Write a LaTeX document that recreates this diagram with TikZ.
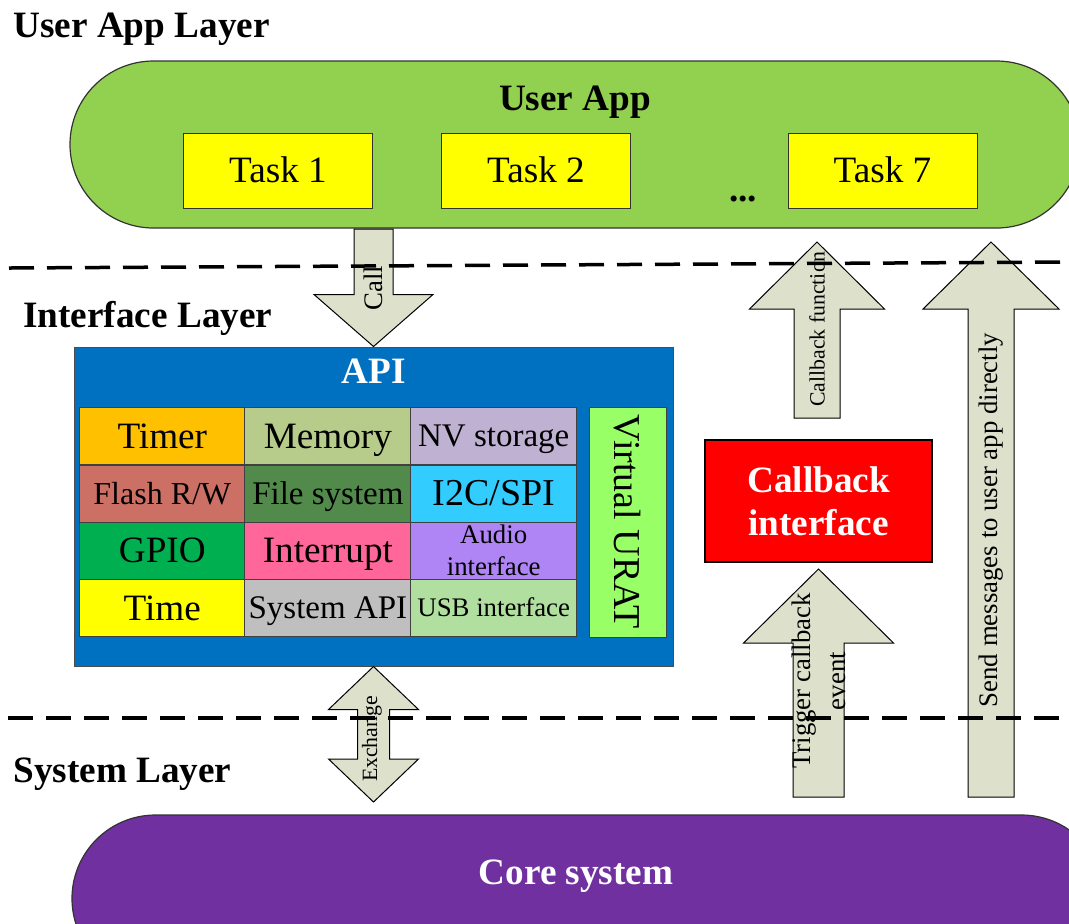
\documentclass[tikz,border=0pt]{standalone}
\usepackage{fontspec}
\setmainfont{Liberation Serif}
\usetikzlibrary{calc}

\definecolor{appgreen}{HTML}{92D050}
\definecolor{taskyellow}{HTML}{FFFF00}
\definecolor{apiblue}{HTML}{0070C0}
\definecolor{corepurple}{HTML}{7030A0}
\definecolor{arrowfill}{HTML}{DDE1CC}
\definecolor{timerc}{HTML}{FFC000}
\definecolor{memoryc}{HTML}{B7CC8A}
\definecolor{nvc}{HTML}{BFB1D1}
\definecolor{flashc}{HTML}{CC7066}
\definecolor{filesysc}{HTML}{518A4A}
\definecolor{busc}{HTML}{33CCFF}
\definecolor{gpioc}{HTML}{00B050}
\definecolor{irqc}{HTML}{FF6699}
\definecolor{audioc}{HTML}{AF84F5}
\definecolor{sysapic}{HTML}{BFBFBF}
\definecolor{usbc}{HTML}{B0DFA0}
\definecolor{vuratc}{HTML}{99FF66}

\newcommand{\fsz}[2]{\fontsize{#1pt}{#2pt}\selectfont}

% tail, tip, head length, shaft half width, head half width
\newcommand{\uparr}[5]{%
  \draw[blockarrow] let \p1=(#1), \p2=(#2) in
    (\p2) -- (\x2+#5,\y2-#3) -- (\x2+#4,\y2-#3) -- (\x2+#4,\y1)
    -- (\x2-#4,\y1) -- (\x2-#4,\y2-#3) -- (\x2-#5,\y2-#3) -- cycle;}
\newcommand{\downarr}[5]{%
  \draw[blockarrow] let \p1=(#1), \p2=(#2) in
    (\p2) -- (\x2+#5,\y2+#3) -- (\x2+#4,\y2+#3) -- (\x2+#4,\y1)
    -- (\x2-#4,\y1) -- (\x2-#4,\y2+#3) -- (\x2-#5,\y2+#3) -- cycle;}

\begin{document}
\begin{tikzpicture}[x=0.5pt,y=-0.5pt,
  every node/.style={inner sep=0pt},
  big/.style={font=\fsz{18.6}{22},text height=12.3pt,text depth=0pt},
  mid/.style={font=\fsz{16.5}{20},text height=10.9pt,text depth=0pt},
  small/.style={font=\fsz{13.4}{16},text height=8.8pt,text depth=0pt},
  layertitle/.style={anchor=base west,font=\fsz{18.6}{22}\bfseries},
  title/.style={anchor=base,font=\fsz{18.6}{22}\bfseries},
  stadium/.style={draw=black!80,line width=0.6pt,rounded corners=41.75pt,
    minimum width=505pt,minimum height=83.5pt},
  task/.style={big,draw=black!80,line width=0.5pt,fill=taskyellow,
    minimum width=94.5pt,minimum height=37.5pt},
  cell/.style={draw=black!75,line width=0.5pt,minimum width=83pt,
    minimum height=28.5pt},
  blockarrow/.style={draw=black,line width=0.5pt,fill=arrowfill},
  arrowlabel/.style={rotate=90,font=\fsz{13.4}{17.5}},
  layerline/.style={line width=1.75pt,dash pattern=on 12.5pt off 6.5pt}]

  \clip (0,0) rectangle (1069,923);

  \node[stadium,fill=appgreen] (userapp) at (575,144.5) {};
  \node[title] (userapptitle) at (575,110) {User App};
  \node[task] (task1) at (278,170.5) {Task 1};
  \node[task] (task2) at (536,170.5) {Task 2};
  \node[task] (task7) at (882.5,170.5) {Task 7};
  \node[title] (dots) at (743,201) {...};

  \node[stadium,fill=corepurple,minimum width=516.5pt] (core) at (588.5,898.5) {};
  \node[title,text=white] (coretitle) at (576,884) {Core system};

  \node[draw=black!70,line width=0.5pt,fill=apiblue,minimum width=299.5pt,
        minimum height=159.5pt] (api) at (373.5,506.5) {};
  \node[title,text=white] (apititle) at (373.5,383) {API};

  \node[cell,big,fill=timerc] (timer) at (162.3,435.9) {Timer};
  \node[cell,big,fill=memoryc] (memory) at (327.9,435.9) {Memory};
  \node[cell,mid,fill=nvc] (nv) at (493.7,435.9) {NV storage};
  \node[cell,mid,fill=flashc,font=\fsz{16}{19}] (flash) at (162.3,493.5) {Flash R/W};
  \node[cell,mid,fill=filesysc] (filesys) at (327.9,493.5) {File system};
  \node[cell,big,fill=busc,font=\fsz{19}{22}] (bus) at (493.7,493.5) {I2C/SPI};
  \node[cell,big,fill=gpioc] (gpio) at (162.3,550.5) {GPIO};
  \node[cell,big,fill=irqc] (irq) at (327.9,550.5) {Interrupt};
  \node[cell,fill=audioc,font=\fsz{13.4}{16},align=center] (audio) at (493.7,550.5) {Audio\\interface};
  \node[cell,big,fill=taskyellow] (time) at (162.3,607.9) {Time};
  \node[cell,mid,fill=sysapic] (sysapi) at (327.9,607.9) {System API};
  \node[cell,small,fill=usbc] (usb) at (493.7,607.9) {USB interface};
  \node[cell,fill=vuratc,rotate=-90,minimum width=115pt,minimum height=38.75pt,
        font=\fsz{19}{22}] (vurat) at (627.75,522) {Virtual URAT};

  \node[draw=black,line width=0.6pt,fill=red,text=white,align=center,
        minimum width=113.5pt,minimum height=61pt,font=\fsz{18.6}{21.5}\bfseries]
        (cbif) at (818.5,501) {Callback\\interface};

  \coordinate (calltail) at (373.5,229);
  \coordinate (xchtip) at (373.5,802);
  \coordinate (cbfntail) at (817,418);
  \coordinate (cbfntip) at (817,242);
  \coordinate (sendtail) at (991,797);
  \coordinate (sendtip) at (991,242);
  \coordinate (trigtail) at (818.5,797);
  \coordinate (trigtip) at (818.5,569);

  \downarr{calltail}{api.north}{26pt}{9.75pt}{29.75pt}
  \uparr{cbfntail}{cbfntip}{33.5pt}{11.5pt}{33.75pt}
  \uparr{sendtail}{sendtip}{33.5pt}{11.5pt}{34pt}
  \uparr{trigtail}{trigtip}{37pt}{12.75pt}{37.5pt}
  \draw[blockarrow] let \p1=(api.south), \p2=(xchtip) in
    (\p1) -- (\x1+22.5pt,\y1-21.5pt) -- (\x1+8pt,\y1-21.5pt) -- (\x1+8pt,\y2+21.5pt)
    -- (\x1+22.5pt,\y2+21.5pt) -- (\x1,\y2) -- (\x1-22.5pt,\y2+21.5pt)
    -- (\x1-8pt,\y2+21.5pt) -- (\x1-8pt,\y1-21.5pt) -- (\x1-22.5pt,\y1-21.5pt) -- cycle;

  \node[arrowlabel] (calllabel) at (373.5,288) {Call};
  \node[arrowlabel,font=\fsz{10.9}{13}] (xchlabel) at (372,739) {Exchange};
  \node[arrowlabel,font=\fsz{10.9}{13}] (cbfnlabel) at (817,329) {Callback function};
  \node[arrowlabel] (sendlabel) at (991,520) {Send messages to user app directly};
  \node[arrowlabel,align=center] (triglabel) at (819,681) {Trigger callback\\event};

  \coordinate (upperleft) at (9,268);
  \coordinate (upperright) at (1069,262);
  \coordinate (lowerleft) at (8,718);
  \coordinate (lowerright) at (1069,718);
  \draw[layerline] (upperleft) -- (upperright);
  \draw[layerline] (lowerleft) -- (lowerright);

  \node[layertitle] (userlayer) at (13,37) {User App Layer};
  \node[layertitle] (ifacelayer) at (23,327) {Interface Layer};
  \node[layertitle] (syslayer) at (13,782) {System Layer};
\end{tikzpicture}
\end{document}
